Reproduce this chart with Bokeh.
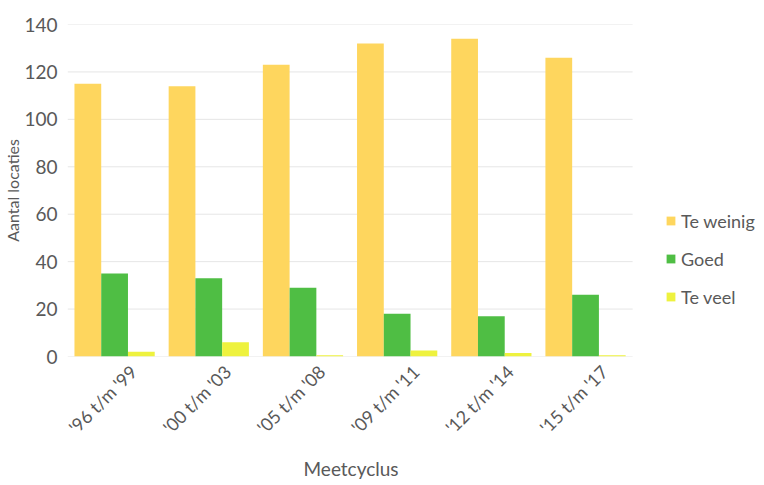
from math import pi
from bokeh.plotting import figure
from bokeh.models import (Range1d, FixedTicker, Legend, LegendItem,
                          LinearAxis, Title, ColumnDataSource)
from bokeh.transform import dodge
from bokeh.embed import file_html
from bokeh.resources import INLINE

categories = ["'96 t/m '99", "'00 t/m '03", "'05 t/m '08",
              "'09 t/m '11", "'12 t/m '14", "'15 t/m '17"]
te_weinig = [115, 114, 123, 132, 134, 126]
goed = [35, 33, 29, 18, 17, 26]
te_veel = [2, 6, 0.5, 2.5, 1.5, 0.5]
series_names = ["Te weinig", "Goed", "Te veel"]
series_colors = ["#FED65E", "#4FBE44", "#EEF23E"]
y_ticks = [0, 20, 40, 60, 80, 100, 120, 140]
x_title = "Meetcyclus"
y_title = "Aantal locaties"

FONT = "Lato"
TXT = "#595959"

n = len(categories)
positions = list(range(n))
src = ColumnDataSource(dict(pos=positions, cat=categories,
                            s0=te_weinig, s1=goed, s2=te_veel))

# the frame runs to the right edge so that the legend can sit inside it
x_end = 6.9
p = figure(width=764, height=485,
           x_range=Range1d(-0.5, x_end),
           y_range=Range1d(0, 140),
           x_axis_location=None,
           output_backend="svg", toolbar_location=None,
           min_border_left=66, min_border_right=0,
           min_border_top=24, min_border_bottom=128)

p.outline_line_color = None
p.background_fill_color = "white"
p.xgrid.grid_line_color = None
p.ygrid.grid_line_color = None

# horizontal gridlines only across the category area
grid_src = ColumnDataSource(dict(y=y_ticks, x0=[-0.5] * len(y_ticks),
                                 x1=[n - 0.5] * len(y_ticks)))
p.segment(x0="x0", x1="x1", y0="y", y1="y", source=grid_src,
          line_color="#E6E6E6", line_width=1)

bw = 0.284
offsets = [-bw, 0.0, bw]
items = []
for i, (name, col) in enumerate(zip(series_names, series_colors)):
    r = p.vbar(x=dodge('pos', offsets[i]), top=f"s{i}",
               width=bw, source=src, fill_color=col, line_color=None)
    items.append(LegendItem(label=name, renderers=[r]))

p.yaxis.ticker = FixedTicker(ticks=y_ticks)
p.yaxis.axis_line_color = None
p.yaxis.major_tick_line_color = None
p.yaxis.minor_tick_line_color = None
p.yaxis.major_tick_out = 0
p.yaxis.major_label_standoff = 10
p.yaxis.major_label_text_font = FONT
p.yaxis.major_label_text_font_size = "19px"
p.yaxis.major_label_text_color = TXT

# category labels on a helper axis, shifted slightly right like the original
shift = 0.2
p.extra_x_ranges = {"lab": Range1d(-0.5 - shift, x_end - shift)}
xax = LinearAxis(x_range_name="lab",
                 ticker=FixedTicker(ticks=positions),
                 major_label_overrides={k: c for k, c in zip(positions, categories)})
xax.axis_line_color = None
xax.major_tick_line_color = None
xax.minor_tick_line_color = None
xax.major_tick_out = 0
xax.major_label_orientation = pi / 4
xax.major_label_standoff = 12
xax.major_label_text_font = FONT
xax.major_label_text_font_size = "18px"
xax.major_label_text_color = TXT
p.add_layout(xax, "below")

p.add_layout(Title(text=x_title, align="left", offset=236, text_font=FONT,
                   text_font_size="19px", text_font_style="normal",
                   text_color=TXT, standoff=12), "below")

p.add_layout(Title(text=y_title, align="center", text_font=FONT,
                   text_font_size="16px", text_font_style="normal",
                   text_color=TXT, standoff=0), "left")

legend = Legend(items=items, location=(598, 48), margin=0, padding=0,
                border_line_color=None, background_fill_alpha=0,
                glyph_width=11, glyph_height=11, label_standoff=5,
                spacing=15, label_height=23,
                label_text_font=FONT, label_text_font_size="18px",
                label_text_color=TXT)
p.add_layout(legend)

open("out.html", "w").write(file_html(p, INLINE))
